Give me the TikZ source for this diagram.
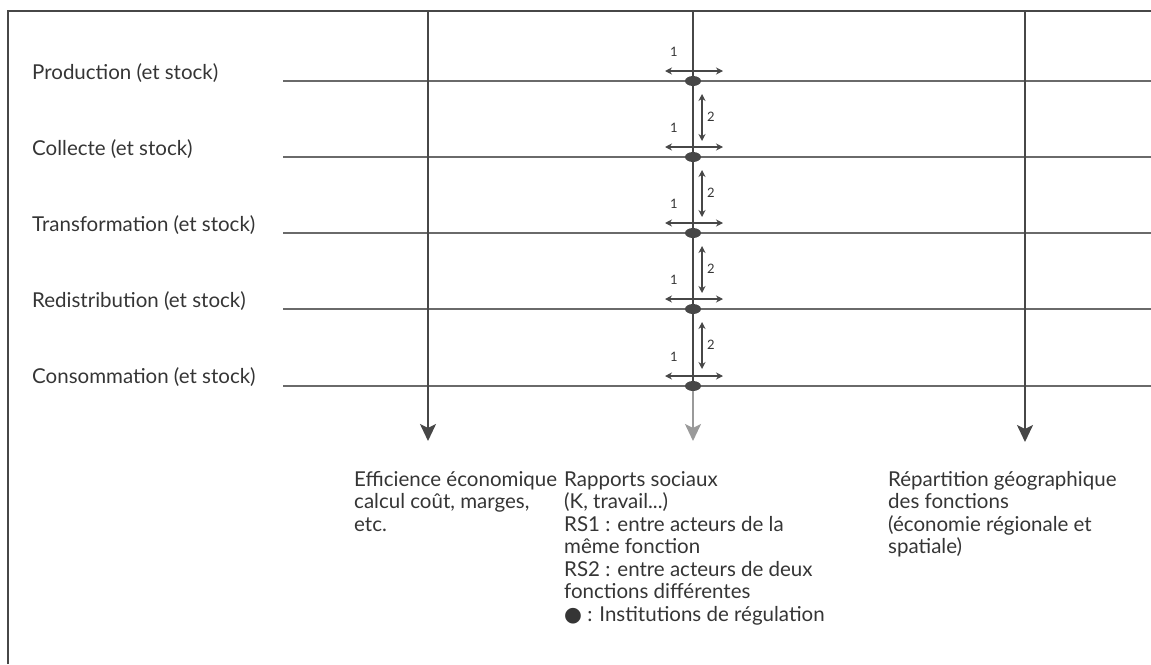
\documentclass[tikz,border=0pt]{standalone}
\usepackage{fontspec}
\setmainfont{Lato}
\newfontfamily\symfont{DejaVu Sans}
\usetikzlibrary{arrows.meta}
\definecolor{txt}{HTML}{353535}
\definecolor{hl}{HTML}{6A6A6A}
\definecolor{vl}{HTML}{474747}
\definecolor{lg}{HTML}{9A9A9A}
\begin{document}
\begin{tikzpicture}[x=1pt,y=-1pt,
  hline/.style={line width=2.4pt, draw=hl},
  vline/.style={line width=2pt, draw=vl},
  bigtip/.style={-{Stealth[length=17pt,width=16pt,inset=4pt]}},
  lbl/.style={anchor=base west, inner sep=0pt, text=txt, font=\fontsize{20.5}{22.5}\selectfont},
  col/.style={anchor=north west, inner sep=0pt, text=txt, align=left, font=\fontsize{20.5}{22.5}\selectfont},
  dbl/.style={line width=1.5pt, draw=vl, {Stealth[length=7pt,width=7pt]}-{Stealth[length=7pt,width=7pt]}},
  num/.style={inner sep=0pt, text=txt, font=\fontsize{13}{13}\selectfont},
  inst/.style={fill=vl, draw=none}
]
\useasboundingbox (0,0) rectangle (1151,664);
% frame
\coordinate (F0) at (8,664);
\coordinate (F1) at (8,11);
\coordinate (F2) at (1151,11);
\draw[line width=2pt, draw=vl] (F0) -- (F1) -- (F2);

% horizontal lines
\foreach \i/\y in {1/81,2/157,3/233,4/309,5/386}{
  \coordinate (L\i a) at (283,\y);
  \coordinate (L\i b) at (1151,\y);
  \coordinate (L\i c) at (693,\y);
  \draw[hline] (L\i a) -- (L\i b);
}

% labels
\node[lbl] (p1) at (32,79) {Production (et stock)};
\node[lbl] (p2) at (32,155) {Collecte (et stock)};
\node[lbl] (p3) at (32,231) {Transformation (et stock)};
\node[lbl] (p4) at (32,307) {Redistribution (et stock)};
\node[lbl] (p5) at (32,383) {Consommation (et stock)};

% vertical lines
\coordinate (V1t) at (428,11);
\coordinate (V1b) at (428,441);
\coordinate (V2t) at (693,11);
\coordinate (V2b) at (693,441);
\coordinate (V3t) at (1025,11);
\coordinate (V3b) at (1025,442);
\draw[vline,bigtip] (V1t) -- (V1b);
\draw[vline,bigtip] (V3t) -- (V3b);
\draw[vline] (V2t) -- (L5c);
\draw[line width=2pt, draw=lg, bigtip] (L5c) -- (V2b);

% institutions (dots) and small arrows
\foreach \i/\y in {1/81,2/157,3/233,4/309,5/386}{
  \fill[inst] (L\i c) ellipse [x radius=8pt, y radius=5pt];
  \coordinate (h\i l) at (665,\y-10);
  \coordinate (h\i r) at (723,\y-10);
  \draw[dbl] (h\i l) -- (h\i r);
  \node[num] (one\i) at (674,\y-29) {1};
}
\foreach \i/\y in {1/81,2/157,3/233,4/309}{
  \coordinate (v\i t) at (702,\y+13);
  \coordinate (v\i b) at (702,\y+60);
  \draw[dbl] (v\i t) -- (v\i b);
  \node[num] (two\i) at (711,\y+36) {2};
}

% bottom texts
\node[col] (c1) at (354,471) {Efficience économique\\calcul coût, marges,\\etc.};
\node[col] (c2) at (564,471) {Rapports sociaux\\(K, travail...)\\RS1 : entre acteurs de la\\même fonction\\RS2 : entre acteurs de deux\\fonctions différentes\\{\symfont ●} : Institutions de régulation};
\node[col] (c3) at (888,471) {Répartition géographique\\des fonctions\\(économie régionale et\\spatiale)};
\end{tikzpicture}
\end{document}
